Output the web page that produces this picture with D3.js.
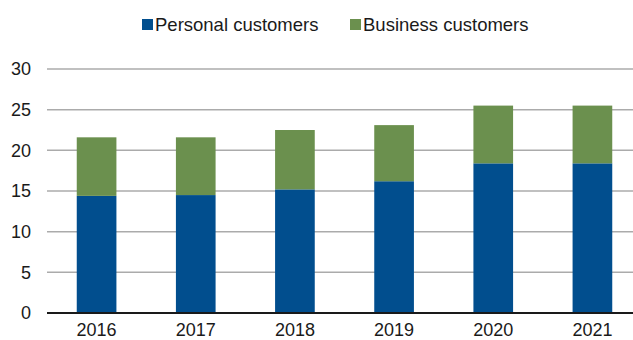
<!DOCTYPE html>
<html>
<head>
<meta charset="utf-8">
<script src="https://cdn.jsdelivr.net/npm/d3@7"></script>
<style>
  html, body { margin: 0; padding: 0; background: #fff; }
  svg { display: block; font-family: "Liberation Sans", Arial, sans-serif; }
</style>
</head>
<body>
<svg id="chart" width="633" height="340"></svg>
<script>
// Customer counts by year, stacked: personal at the bottom, business on top
const years = ["2016", "2017", "2018", "2019", "2020", "2021"];
const personal = [14.4, 14.5, 15.2, 16.2, 18.4, 18.4];
const business = [7.2, 7.1, 7.3, 6.9, 7.1, 7.1];
const yTicks = [0, 5, 10, 15, 20, 25, 30];
const seriesNames = ["Personal customers", "Business customers"];
const seriesColors = ["#014E8E", "#6B904E"];

const svg = d3.select("#chart");
const W = 633;

const x = d3.scaleBand().domain(years).range([47, 642]).paddingInner(0.6).paddingOuter(0.3);
const y = d3.scaleLinear().domain([0, 30]).range([313, 69]);

// Horizontal gridlines
svg.append("g")
  .selectAll("line")
  .data(yTicks.filter(d => d > 0))
  .join("line")
  .attr("x1", 47).attr("x2", W)
  .attr("y1", d => y(d)).attr("y2", d => y(d))
  .attr("stroke", "#ababab").attr("stroke-width", 1.5);

// Stacked bars
const rows = years.map((yr, i) => ({ year: yr, personal: personal[i], business: business[i] }));
const stack = d3.stack().keys(["personal", "business"])(rows);

svg.append("g")
  .selectAll("g")
  .data(stack)
  .join("g")
  .attr("fill", (d, i) => seriesColors[i])
  .selectAll("rect")
  .data(d => d)
  .join("rect")
  .attr("x", d => x(d.data.year))
  .attr("width", x.bandwidth())
  .attr("y", d => y(d[1]))
  .attr("height", d => y(d[0]) - y(d[1]));

// Baseline
svg.append("line")
  .attr("x1", 47).attr("x2", W)
  .attr("y1", y(0)).attr("y2", y(0))
  .attr("stroke", "#1a1a1a").attr("stroke-width", 2);

// Y axis labels
const yAxis = d3.axisLeft(y).tickValues(yTicks).tickSize(0).tickPadding(0);
svg.append("g")
  .attr("transform", "translate(31,0)")
  .call(yAxis)
  .call(g => g.select(".domain").remove())
  .call(g => g.selectAll("text")
    .attr("font-size", 18).attr("fill", "#1a1a1a")
    .attr("font-family", "Liberation Sans, Arial, sans-serif"));

// X axis labels
const xAxis = d3.axisBottom(x).tickSize(0).tickPadding(0);
svg.append("g")
  .attr("transform", "translate(0,323)")
  .call(xAxis)
  .call(g => g.select(".domain").remove())
  .call(g => g.selectAll("text")
    .attr("font-size", 18).attr("fill", "#1a1a1a")
    .attr("font-family", "Liberation Sans, Arial, sans-serif"));

// Legend
const legendX = [142, 350];
const legend = svg.append("g");
seriesNames.forEach((name, i) => {
  legend.append("rect")
    .attr("x", legendX[i]).attr("y", 19)
    .attr("width", 11).attr("height", 11)
    .attr("fill", seriesColors[i]);
  legend.append("text")
    .attr("x", legendX[i] + 13).attr("y", 31)
    .attr("font-size", 18.5).attr("fill", "#1a1a1a")
    .text(name);
});
</script>
</body>
</html>
